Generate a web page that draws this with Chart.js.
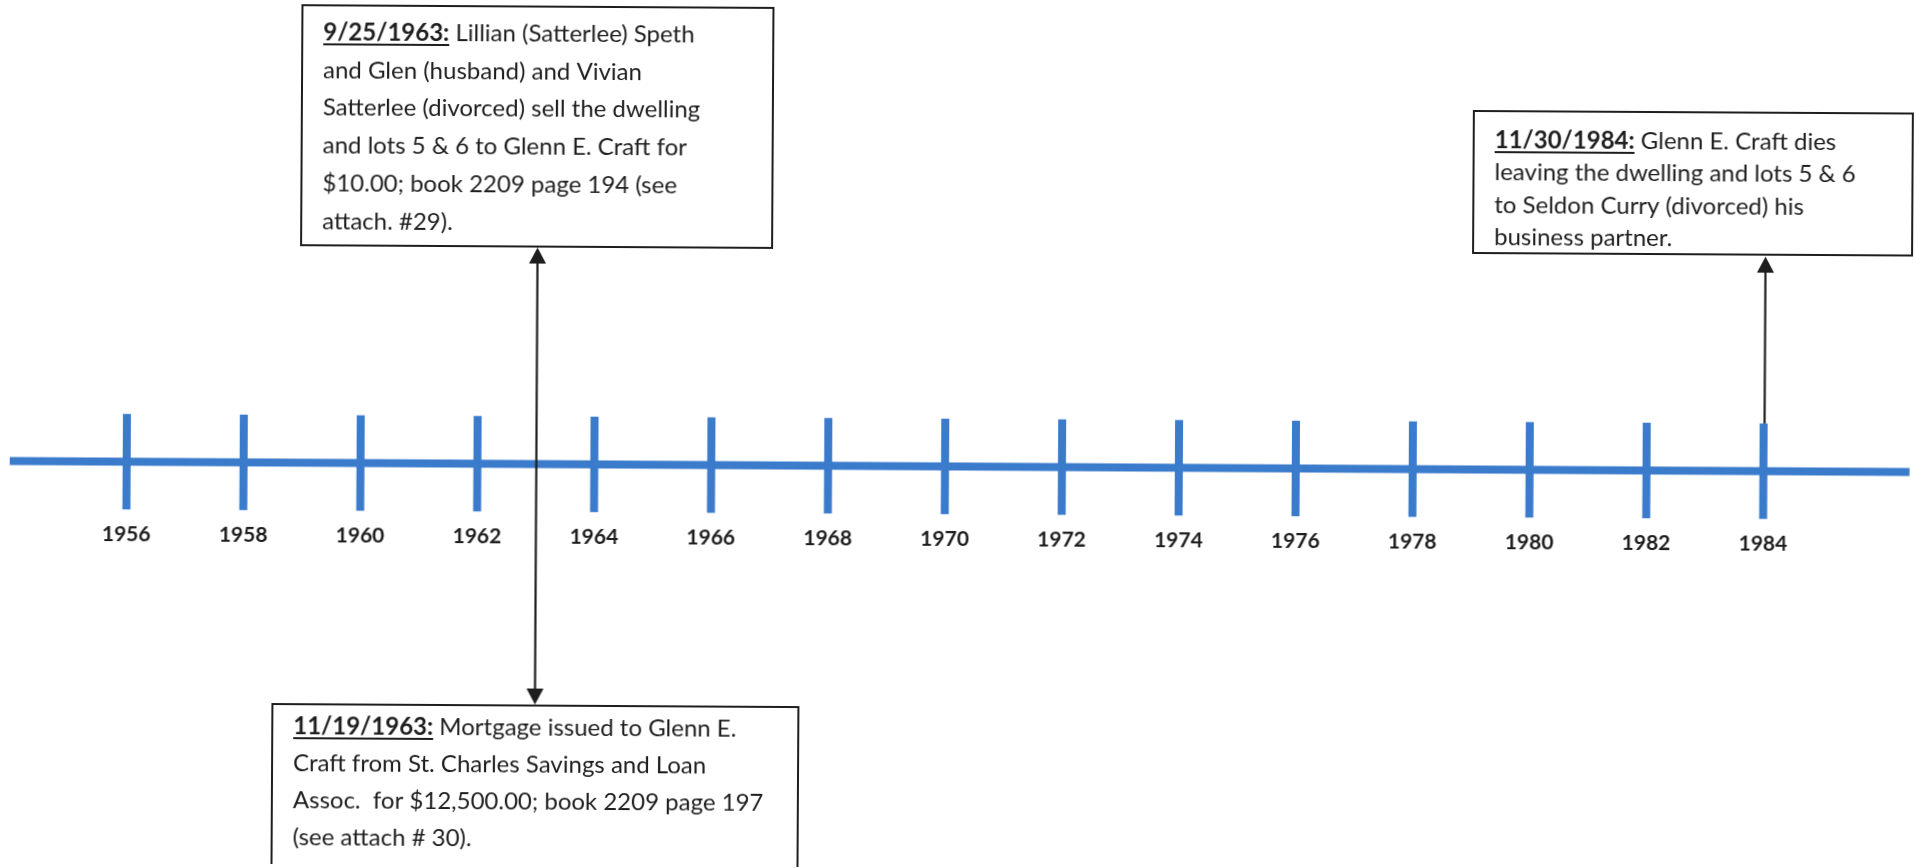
<!DOCTYPE html>
<html>
<head>
<meta charset="utf-8">
<script src="https://cdn.jsdelivr.net/npm/chart.js@4.4.1/dist/chart.umd.min.js"></script>
<style>
  html, body { margin: 0; padding: 0; background: #ffffff; overflow: hidden; width: 1915px; height: 868px; }
  /* the reference is a slightly skewed scan: tilt the whole drawing a third of a degree */
  #c { display: block; transform: rotate(0.332deg); transform-origin: 957.5px 434px; }
</style>
</head>
<body>
<canvas id="c" width="1915" height="868"></canvas>
<script>
// ---------------- DATA ----------------
const tickYears = [1956, 1958, 1960, 1962, 1964, 1966, 1968, 1970, 1972, 1974, 1976, 1978, 1980, 1982, 1984];
const tickLabels = ['1956', '1958', '1960', '1962', '1964', '1966', '1968', '1970', '1972', '1974', '1976', '1978', '1980', '1982', '1984'];
const timelineStart = 1954.0;
const timelineEnd = 1986.5;

const eventDates = ['9/25/1963:', '11/19/1963:', '11/30/1984:'];
const eventYears = [1963, 1963, 1984];
const eventLines = [
  [' Lillian (Satterlee) Speth', 'and Glen (husband) and Vivian', 'Satterlee (divorced) sell the dwelling', 'and lots 5 & 6 to Glenn E. Craft for', '$10.00; book 2209 page 194 (see', 'attach. #29).'],
  [' Mortgage issued to Glenn E.', 'Craft from St. Charles Savings and Loan', 'Assoc.  for $12,500.00; book 2209 page 197', '(see attach # 30).'],
  [' Glenn E. Craft dies', 'leaving the dwelling and lots 5 & 6', 'to Seldon Curry (divorced) his', 'business partner.']
];

// ---------------- LAYOUT / STYLE (not data) ----------------
const BLUE = '#3b7bcc';
const INK = '#1e1e1e';
const TICK_HALF = 0.55;          // tick half-length in y units
const TEXT_FONT = '24px Lato, "Open Sans", sans-serif';
const DATE_FONT = 'bold 24px Lato, "Open Sans", sans-serif';
const boxLayout = [
  { left: 300, top: 9,   right: 771,  bottom: 249, padX: 21, firstLine: 27, lineGap: 37.8 },
  { left: 274, top: 708, right: 800,  bottom: 880, padX: 21, firstLine: 22, lineGap: 37 },
  { left: 1472, top: 108, right: 1911, bottom: 250, padX: 21, firstLine: 29, lineGap: 32.4 }
];

// ---------------- DATASETS built from the arrays ----------------
const mainLine = [{ x: timelineStart, y: 0 }, { x: timelineEnd, y: 0 }];
const tickSegments = [];
tickYears.forEach(yr => {
  tickSegments.push({ x: yr, y: TICK_HALF });
  tickSegments.push({ x: yr, y: -TICK_HALF });
  tickSegments.push({ x: yr, y: null });
});

function drawArrowHead(ctx, x, tipY, dir) {
  // dir = -1 pointing up, +1 pointing down
  const len = 16, half = 8.5;
  ctx.beginPath();
  ctx.moveTo(x, tipY);
  ctx.lineTo(x - half, tipY - dir * len);
  ctx.lineTo(x + half, tipY - dir * len);
  ctx.closePath();
  ctx.fill();
}

const timelinePlugin = {
  id: 'timelineDecor',
  afterDatasetsDraw(chart) {
    const ctx = chart.ctx;
    const xs = chart.scales.x, ys = chart.scales.y;
    ctx.save();

    // Year labels
    ctx.fillStyle = INK;
    ctx.font = 'bold 21px Lato, "Open Sans", sans-serif';
    ctx.textAlign = 'center';
    ctx.textBaseline = 'middle';
    const labelY = ys.getPixelForValue(0) + 73;
    tickYears.forEach((yr, i) => {
      ctx.fillText(tickLabels[i], xs.getPixelForValue(yr), labelY);
    });

    // Arrows
    ctx.strokeStyle = INK;
    ctx.fillStyle = INK;
    ctx.lineWidth = 2.2;
    const ax = Math.round(xs.getPixelForValue(eventYears[0])) + 0.5;
    const topTip = boxLayout[0].bottom + 1;
    const botTip = boxLayout[1].top - 1;
    ctx.beginPath();
    ctx.moveTo(ax, topTip + 10);
    ctx.lineTo(ax, botTip - 10);
    ctx.stroke();
    drawArrowHead(ctx, ax, topTip, -1);
    drawArrowHead(ctx, ax, botTip, 1);

    const bx = Math.round(xs.getPixelForValue(eventYears[2])) + 0.5;
    const tickTop = ys.getPixelForValue(TICK_HALF);
    const tip2 = boxLayout[2].bottom + 2;
    ctx.beginPath();
    ctx.moveTo(bx, tickTop);
    ctx.lineTo(bx, tip2 + 10);
    ctx.stroke();
    drawArrowHead(ctx, bx, tip2, -1);

    // Boxes
    eventDates.forEach((date, i) => {
      const b = boxLayout[i];
      ctx.fillStyle = '#ffffff';
      ctx.fillRect(b.left, b.top, b.right - b.left, b.bottom - b.top);
      ctx.strokeStyle = INK;
      ctx.lineWidth = 2;
      ctx.strokeRect(b.left, b.top, b.right - b.left, b.bottom - b.top);

      ctx.fillStyle = INK;
      ctx.textAlign = 'left';
      ctx.textBaseline = 'middle';
      const tx = b.left + b.padX;
      eventLines[i].forEach((line, j) => {
        const ty = b.top + b.firstLine + j * b.lineGap;
        let x = tx;
        if (j === 0) {
          ctx.font = DATE_FONT;
          ctx.fillText(date, x, ty);
          const w = ctx.measureText(date).width;
          ctx.fillRect(x, ty + 11, w, 2);
          x += w;
        }
        ctx.font = TEXT_FONT;
        ctx.fillText(line, x, ty);
      });
    });
    ctx.restore();
  }
};

function build() {
  new Chart(document.getElementById('c'), {
    type: 'scatter',
    data: {
      datasets: [
        {
          label: 'timeline',
          data: mainLine,
          showLine: true,
          borderColor: BLUE,
          borderWidth: 8,
          pointRadius: 0,
          borderCapStyle: 'butt'
        },
        {
          label: 'ticks',
          data: tickSegments,
          showLine: true,
          spanGaps: false,
          borderColor: BLUE,
          borderWidth: 8,
          pointRadius: 0,
          borderCapStyle: 'butt'
        }
      ]
    },
    options: {
      responsive: false,
      animation: false,
      events: [],
      layout: { padding: 0 },
      plugins: { legend: { display: false }, tooltip: { enabled: false }, title: { display: false } },
      scales: {
        x: { type: 'linear', min: 1953.83, max: 1986.59, display: false },
        y: { type: 'linear', min: -4.625, max: 5.375, display: false }
      }
    },
    plugins: [timelinePlugin]
  });
}

if (document.fonts && document.fonts.load) {
  Promise.all([
    document.fonts.load('24px Lato'),
    document.fonts.load('bold 24px Lato')
  ]).then(build, build);
} else {
  build();
}
</script>
</body>
</html>
